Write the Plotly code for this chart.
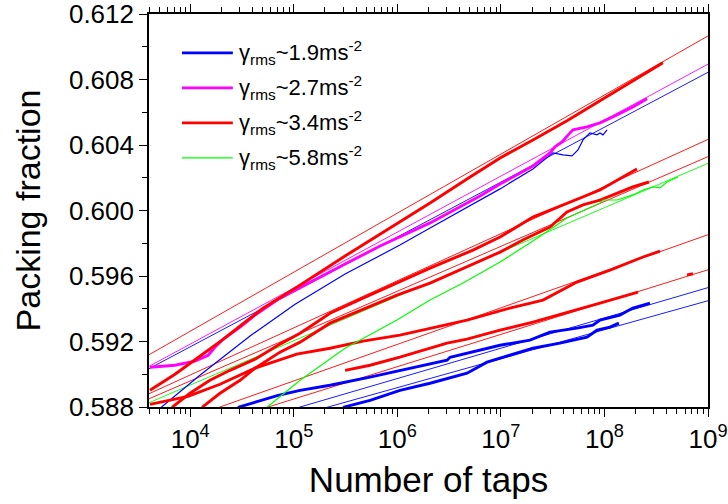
import math
import plotly.graph_objects as go

# ---------------- data (taps, packing fraction) ----------------
# thick red curves (gamma ~3.4)
r1_taps = [4.09e3, 7.13e3, 1.24e4, 2.03e4, 3.38e4, 5.05e4, 1.07e5, 3.13e5, 8.49e5, 2.07e6,
           5.04e6, 9.82e6, 2.04e7, 4.35e7, 9.06e7, 1.88e8, 3.67e8]
r1_phi = [0.58902, 0.59000, 0.59110, 0.59208, 0.59318, 0.59404, 0.59532, 0.59722, 0.59893, 0.60046,
          0.60205, 0.60321, 0.60431, 0.60548, 0.60670, 0.60792, 0.60902]

r2_taps = [6.67e3, 9.95e3, 1.55e4, 2.42e4, 4.23e4, 7.36e4, 1.15e5, 2.24e5, 4.66e5, 9.93e5,
           2.07e6, 5.38e6, 9.82e6, 2.04e7, 4.35e7, 9.06e7, 2.06e8]
r2_phi = [0.58798, 0.58884, 0.58963, 0.59024, 0.59092, 0.59184, 0.59251, 0.59373, 0.59465, 0.59557,
          0.59648, 0.59758, 0.59838, 0.59960, 0.60046, 0.60125, 0.60254]

r3_taps = [1.30e4, 1.94e4, 3.03e4, 4.23e4, 7.36e4, 1.15e5, 2.24e5, 9.93e5, 2.07e6, 4.31e6,
           9.82e6, 1.63e7, 2.98e7, 4.35e7, 6.21e7, 9.06e7, 1.32e8, 1.88e8, 2.69e8]
r3_phi = [0.58798, 0.58884, 0.58963, 0.59037, 0.59135, 0.59196, 0.59312, 0.59483, 0.59557, 0.59648,
          0.59746, 0.59820, 0.59899, 0.59991, 0.60034, 0.60064, 0.60107, 0.60144, 0.60174]

r4_taps = [4.09e3, 6.38e3, 9.53e3, 1.94e4, 4.23e4, 1.07e5, 2.24e5, 4.66e5, 1.06e6, 4.71e6,
           1.22e7, 2.55e7, 5.43e7, 1.13e8, 2.36e8, 3.44e8]
r4_phi = [0.58816, 0.58841, 0.58865, 0.58939, 0.59037, 0.59123, 0.59159, 0.59202, 0.59239, 0.59331,
          0.59404, 0.59453, 0.59563, 0.59636, 0.59716, 0.59752]

r5_taps = [3.13e5, 5.45e5, 1.06e6, 3.02e6, 4.71e6, 9.82e6, 2.04e7, 5.43e7, 9.06e7, 2.11e8]
r5_phi = [0.59024, 0.59055, 0.59104, 0.59190, 0.59214, 0.59269, 0.59318, 0.59392, 0.59434, 0.59502]

r5b_taps = [6.27e8, 7.16e8]
r5b_phi = [0.59607, 0.59614]

# magenta curve (gamma ~2.7)
m_taps = [4.09e3, 7.13e3, 1.11e4, 1.49e4, 1.73e4, 2.03e4, 3.03e4, 4.23e4, 7.36e4, 1.44e5,
          3.13e5, 6.81e5, 2.07e6, 6.28e6, 9.82e6, 2.04e7, 2.98e7, 3.33e7, 3.89e7, 4.65e7,
          4.97e7, 6.78e7, 9.06e7, 1.32e8, 1.88e8, 2.58e8]
m_phi = [0.59043, 0.59055, 0.59080, 0.59116, 0.59165, 0.59208, 0.59288, 0.59361, 0.59465, 0.59563,
         0.59673, 0.59783, 0.59924, 0.60089, 0.60162, 0.60272, 0.60352, 0.60389, 0.60419, 0.60474,
         0.60493, 0.60511, 0.60535, 0.60584, 0.60633, 0.60682]

# blue curves (gamma ~1.9)
bt_taps = [5.11e3, 1.24e4, 3.78e4, 1.03e5, 3.13e5, 1.06e6, 2.07e6, 6.28e6, 9.82e6, 2.04e7,
           3.18e7, 3.98e7, 4.86e7, 5.55e7, 6.21e7, 7.24e7, 8.47e7, 9.06e7, 9.68e7, 1.06e8]
bt_phi = [0.58792, 0.58994, 0.59233, 0.59428, 0.59612, 0.59789, 0.59893, 0.60064, 0.60132, 0.60254,
          0.60352, 0.60340, 0.60333, 0.60370, 0.60431, 0.60474, 0.60462, 0.60474, 0.60462, 0.60493]

b1_taps = [2.89e4, 4.23e4, 7.05e4, 1.15e5, 2.24e5, 5.45e5, 1.06e6, 3.02e6, 3.23e6, 9.82e6,
           1.91e7, 2.98e7, 5.43e7, 7.74e7, 9.06e7, 1.41e8, 1.88e8, 2.75e8]
b1_phi = [0.58798, 0.58829, 0.58871, 0.58902, 0.58933, 0.58982, 0.59024, 0.59086, 0.59104, 0.59177,
          0.59208, 0.59257, 0.59282, 0.59300, 0.59331, 0.59361, 0.59404, 0.59434]

b2_taps = [2.99e5, 5.45e5, 1.06e6, 2.07e6, 4.71e6, 7.35e6, 1.22e7, 2.04e7, 3.72e7, 6.78e7,
           8.47e7, 1.13e8, 1.38e8]
b2_phi = [0.58798, 0.58841, 0.58902, 0.58945, 0.59006, 0.59074, 0.59116, 0.59159, 0.59190, 0.59226,
          0.59269, 0.59288, 0.59312]

# green curve (gamma ~5.8)
g_taps = [5.51e4, 1.15e5, 3.13e5, 9.93e5, 2.07e6, 4.31e6, 9.82e6, 2.04e7, 4.35e7, 9.06e7,
          9.68e7, 1.32e8, 1.88e8, 2.36e8, 2.94e8, 3.44e8, 4.02e8, 5.13e8]
g_phi = [0.58798, 0.58963, 0.59159, 0.59331, 0.59453, 0.59557, 0.59685, 0.59814, 0.59954, 0.60046,
         0.60064, 0.60064, 0.60095, 0.60125, 0.60144, 0.60138, 0.60174, 0.60205]

# straight (logarithmic) fits: values at the two ends of the axis
fit_taps = [4.0e3, 1.0e9]
fit_r1 = [0.59119, 0.61066]
fit_r2 = [0.58881, 0.60434]
fit_r3 = [0.58850, 0.60329]
fit_r4 = [0.58647, 0.59852]
fit_r5 = [0.58573, 0.59638]
fit_m = [0.59048, 0.60894]
fit_b0 = [0.59034, 0.60844]
fit_b1 = [0.58530, 0.59529]
fit_b2 = [0.58494, 0.59449]
fit_g = [0.58826, 0.60288]

legend_labels = ["γ<sub>rms</sub>~1.9ms<sup>-2</sup>", "γ<sub>rms</sub>~2.7ms<sup>-2</sup>",
                 "γ<sub>rms</sub>~3.4ms<sup>-2</sup>", "γ<sub>rms</sub>~5.8ms<sup>-2</sup>"]

x_tick_vals = [1e4, 1e5, 1e6, 1e7, 1e8, 1e9]
x_tick_text = ["10<sup>4</sup>", "10<sup>5</sup>", "10<sup>6</sup>", "10<sup>7</sup>",
               "10<sup>8</sup>", "10<sup>9</sup>"]
y_tick_vals = [0.588, 0.592, 0.596, 0.600, 0.604, 0.608, 0.612]
y_tick_text = ["0.588", "0.592", "0.596", "0.600", "0.604", "0.608", "0.612"]

BLUE, MAG, RED, GRN = "#0000FF", "#FF00FF", "#FF0000", "#00FF00"

fig = go.Figure()


def add(x, y, color, width):
    fig.add_trace(go.Scatter(x=x, y=y, mode="lines", showlegend=False, hoverinfo="skip",
                             line=dict(color=color, width=width)))


# fits (thin)
for fy, c in [(fit_b1, BLUE), (fit_b2, BLUE), (fit_b0, BLUE), (fit_m, MAG),
              (fit_r1, RED), (fit_r2, RED), (fit_r3, RED), (fit_r4, RED), (fit_r5, RED),
              (fit_g, GRN)]:
    add(fit_taps, fy, c, 0.9)

# data
add(bt_taps, bt_phi, BLUE, 1.2)
add(b1_taps, b1_phi, BLUE, 2.9)
add(b2_taps, b2_phi, BLUE, 2.9)
add(m_taps, m_phi, MAG, 2.9)
for tx, ty in [(r1_taps, r1_phi), (r2_taps, r2_phi), (r3_taps, r3_phi), (r4_taps, r4_phi),
               (r5_taps, r5_phi), (r5b_taps, r5b_phi)]:
    add(tx, ty, RED, 2.9)
add(g_taps, g_phi, GRN, 1.2)

# legend drawn manually (long line samples)
leg_colors = [BLUE, MAG, RED, GRN]
leg_widths = [2.6, 2.6, 2.6, 1.2]
leg_y = [0.901, 0.812, 0.723, 0.634]
for lab, c, w, yy in zip(legend_labels, leg_colors, leg_widths, leg_y):
    fig.add_shape(type="line", xref="paper", yref="paper", x0=0.059, x1=0.150, y0=yy, y1=yy,
                  line=dict(color=c, width=w))
    fig.add_annotation(xref="paper", yref="paper", x=0.158, y=yy, xanchor="left", yanchor="middle",
                       text=lab, showarrow=False, font=dict(size=22, color="black"))

minor_x = []
for e in range(3, 9):
    for d in range(2, 10):
        v = d * 10 ** e
        if 4000 <= v <= 1e9:
            minor_x.append(v)

fig.update_layout(
    width=728, height=504,
    margin=dict(l=149, r=20, t=14, b=97, autoexpand=False),
    paper_bgcolor="white", plot_bgcolor="white",
    font=dict(family="Liberation Sans, Arial, sans-serif", color="black"),
    showlegend=False,
)
fig.update_xaxes(
    type="log", range=[math.log10(4000), 9], automargin=False, ticklabeloverflow="allow",
    tickmode="array", tickvals=x_tick_vals, ticktext=x_tick_text,
    ticks="outside", ticklen=8, tickwidth=1.3, tickcolor="black",
    minor=dict(tickmode="array", tickvals=minor_x, ticks="outside", ticklen=5, tickwidth=1.1,
               tickcolor="black"),
    showline=True, linecolor="black", linewidth=1.6, mirror="ticks",
    showgrid=False, zeroline=False,
    tickfont=dict(size=26),
    title=dict(text="Number of taps", font=dict(size=35), standoff=14),
)
fig.update_yaxes(
    range=[0.588, 0.612], automargin=False, ticklabeloverflow="allow",
    tickmode="array", tickvals=y_tick_vals, ticktext=y_tick_text,
    ticks="outside", ticklen=8, tickwidth=1.3, tickcolor="black",
    minor=dict(tickmode="array", tickvals=[0.590, 0.594, 0.598, 0.602, 0.606, 0.610],
               ticks="outside", ticklen=5, tickwidth=1.1, tickcolor="black"),
    showline=True, linecolor="black", linewidth=1.6, mirror=True,
    showgrid=False, zeroline=False,
    tickfont=dict(size=26),
    title=dict(text="Packing fraction", font=dict(size=34), standoff=18),
)

fig.write_html("out.html")
